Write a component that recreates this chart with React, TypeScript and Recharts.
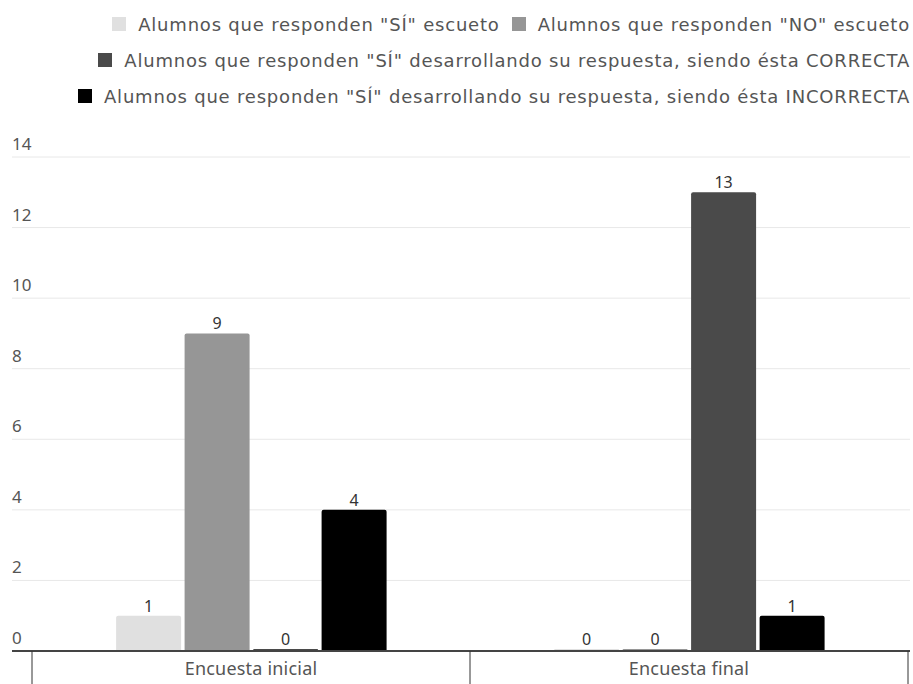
import { BarChart, Bar, XAxis, YAxis, CartesianGrid, LabelList } from 'recharts';

const categories = ['Encuesta inicial', 'Encuesta final'];
const siEscueto = [1, 0];
const noEscueto = [9, 0];
const siCorrecta = [0, 13];
const siIncorrecta = [4, 1];
const yTicks = [0, 2, 4, 6, 8, 10, 12, 14];

const series = [
  { key: 'siEscueto', name: 'Alumnos que responden "SÍ" escueto', color: '#e0e0e0', values: siEscueto },
  { key: 'noEscueto', name: 'Alumnos que responden "NO" escueto', color: '#969696', values: noEscueto },
  { key: 'siCorrecta', name: 'Alumnos que responden "SÍ" desarrollando su respuesta, siendo ésta CORRECTA', color: '#4a4a4a', values: siCorrecta },
  { key: 'siIncorrecta', name: 'Alumnos que responden "SÍ" desarrollando su respuesta, siendo ésta INCORRECTA', color: '#000000', values: siIncorrecta },
];

// legend rows as laid out in the original
const legendRows = [[0, 1], [2], [3]];

const data = categories.map((name, i) => {
  const row: Record<string, string | number> = { name };
  series.forEach((s) => { row[s.key] = s.values[i]; });
  return row;
});

const W = 913;
const H = 684;
const Y_AXIS_W = 12;
const MARGIN = { top: 157, right: 3, bottom: 0, left: 0 };
const PAD = { left: 20, right: 2 };
const HALF_BAND = (W - Y_AXIS_W - MARGIN.right - PAD.left - PAD.right) / categories.length / 2;

const axisFont = "'Noto Sans', sans-serif";

function YTick(props: any) {
  const { y, payload } = props;
  return (
    <text x={Y_AXIS_W} y={y - 7} fontSize={17} fill="#555" fontFamily={axisFont} textAnchor="start">
      {payload.value}
    </text>
  );
}

function XTick(props: any) {
  const { x, y, payload, index } = props;
  const last = index === categories.length - 1;
  return (
    <g>
      <line x1={x - HALF_BAND} x2={x - HALF_BAND} y1={y - 8} y2={H} stroke="#333" strokeWidth={1} />
      {last && <line x1={x + HALF_BAND} x2={x + HALF_BAND} y1={y - 8} y2={H} stroke="#333" strokeWidth={1} />}
      <text x={x} y={y + 16} fontSize={18} fill="#555" fontFamily={axisFont} textAnchor="middle" letterSpacing={0.2}>
        {payload.value}
      </text>
    </g>
  );
}

function LegendBlock() {
  return (
    <div
      style={{
        position: 'absolute', top: 0, right: 3, display: 'flex', flexDirection: 'column',
        alignItems: 'flex-end', fontFamily: "'DejaVu Sans', sans-serif", fontSize: 18,
        color: '#555', paddingTop: 6, letterSpacing: 0.8,
      }}
    >
      {legendRows.map((row, r) => (
        <div key={r} style={{ display: 'flex', height: 36, alignItems: 'center' }}>
          {row.map((si) => (
            <div key={si} style={{ display: 'flex', alignItems: 'center', marginLeft: 12 }}>
              <span style={{ width: 14, height: 14, background: series[si].color, marginRight: 12, display: 'inline-block' }} />
              <span style={{ whiteSpace: 'nowrap' }}>{series[si].name}</span>
            </div>
          ))}
        </div>
      ))}
    </div>
  );
}

export default function App() {
  return (
    <div style={{ position: 'absolute', left: 0, top: 0, width: W, height: H, background: '#fff' }}>
      <BarChart width={W} height={H} data={data} margin={MARGIN} barCategoryGap="19.2%" barGap={3.5}>
        <CartesianGrid vertical={false} stroke="#e8e8e8" />
        <XAxis
          dataKey="name"
          padding={PAD}
          height={33}
          axisLine={{ stroke: '#444', strokeWidth: 2 }}
          tickLine={false}
          tick={<XTick />}
          interval={0}
        />
        <YAxis
          width={Y_AXIS_W}
          domain={[0, 14]}
          ticks={yTicks}
          axisLine={false}
          tickLine={false}
          tick={<YTick />}
          interval={0}
        />
        {series.map((s) => (
          <Bar key={s.key} dataKey={s.key} name={s.name} fill={s.color} radius={[2, 2, 0, 0]} minPointSize={2} isAnimationActive={false}>
            <LabelList dataKey={s.key} position="top" offset={4} fontSize={16} fill="#333" fontFamily={axisFont} />
          </Bar>
        ))}
      </BarChart>
      <LegendBlock />
    </div>
  );
}
